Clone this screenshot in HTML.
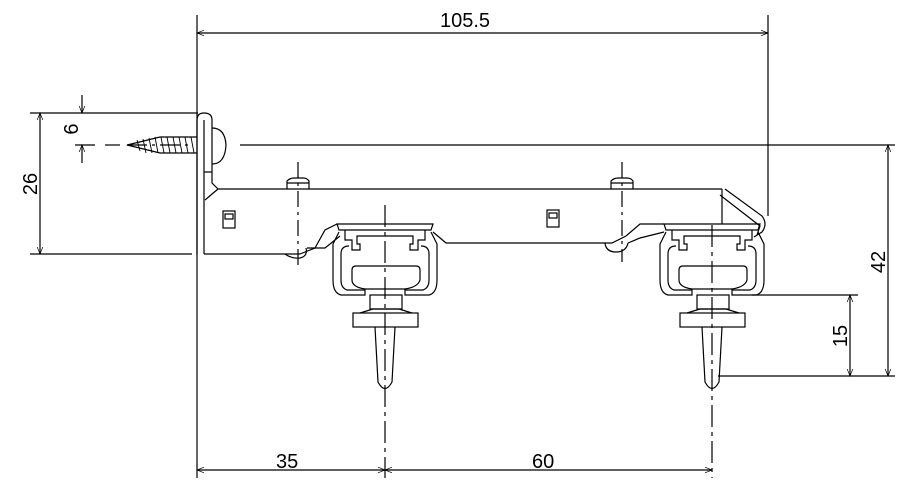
<!DOCTYPE html>
<html><head><style>
html,body{margin:0;padding:0;background:#fff;}
svg{display:block}
text{font-family:"Liberation Sans",sans-serif;font-size:20px;fill:#000}
</style></head><body>
<svg width="922" height="495" viewBox="0 0 922 495" xmlns="http://www.w3.org/2000/svg">
<defs>
<marker id="a" viewBox="0 0 10 10" refX="10" refY="5" markerWidth="10" markerHeight="7" orient="auto-start-reverse" markerUnits="userSpaceOnUse"><path d="M0,1 L10,5 L0,9" fill="none" stroke="#000" stroke-width="1"/></marker>
<g id="car" fill="none" stroke="#000" stroke-width="1.2">
<path d="M-48,224 L48,224 L46,230 L-46,230 Z"/>
<path d="M-40,230 L-40,240 L-33,240 L-33,250 L-25,250 L-25,244 L-28,244 L-28,236 L28,236 L28,244 L25,244 L25,250 L33,250 L33,240 L40,240 L40,230"/>
<path d="M-46,232 L-52,244 L-52,280 Q-52,293 -44,295 L-20,295 L-20,290 L-38,290 Q-44,288 -44,280 L-44,254 Q-44,246 -36,246"/>
<path d="M46,232 L52,244 L52,280 Q52,293 44,295 L20,295 L20,290 L38,290 Q44,288 44,280 L44,254 Q44,246 36,246"/>
<path d="M-33,270 Q-33,266 -29,266 L31,266 Q35,266 35,270 L35,280 Q33,287 20,289 L-20,289 Q-33,287 -33,280 Z"/>
<rect x="-15" y="295" width="32" height="14"/>
<path d="M-25,313 L-12,309 L14,309 L27,313"/>
<rect x="-32" y="313" width="65" height="14"/>
<path d="M-10,327 L-7,382 Q0,395 7,382 L10,327"/>
</g>
</defs>
<g fill="none" stroke="#000" stroke-width="1.2">
<!-- dimension / extension lines -->
<line x1="197" y1="15" x2="197" y2="478"/>
<line x1="768" y1="15" x2="768" y2="216"/>
<line x1="197" y1="33" x2="768" y2="33" marker-start="url(#a)" marker-end="url(#a)"/>
<line x1="30" y1="113" x2="198" y2="113"/>
<line x1="30" y1="254" x2="192" y2="254"/>
<line x1="40" y1="113" x2="40" y2="254" marker-start="url(#a)" marker-end="url(#a)"/>
<line x1="75" y1="145" x2="95" y2="145"/>
<line x1="82" y1="95" x2="82" y2="113" marker-end="url(#a)"/>
<line x1="82" y1="163" x2="82" y2="145" marker-end="url(#a)"/>
<line x1="105" y1="145" x2="120" y2="145"/>
<line x1="127" y1="145" x2="190" y2="145" stroke-dasharray="20,5,3,5"/>
<line x1="240" y1="145" x2="895" y2="145"/>
<line x1="888" y1="145" x2="888" y2="376" marker-start="url(#a)" marker-end="url(#a)"/>
<line x1="718" y1="376" x2="895" y2="376"/>
<line x1="752" y1="295" x2="858" y2="295"/>
<line x1="850" y1="295" x2="850" y2="376" marker-start="url(#a)" marker-end="url(#a)"/>
<line x1="385" y1="205" x2="385" y2="478" stroke-dasharray="22,5,4,5"/>
<line x1="712" y1="225" x2="712" y2="478" stroke-dasharray="22,5,4,5"/>
<line x1="298" y1="162" x2="298" y2="265" stroke-dasharray="16,5,3,5"/>
<line x1="622" y1="162" x2="622" y2="262" stroke-dasharray="16,5,3,5"/>
<line x1="197" y1="470" x2="385" y2="470" marker-start="url(#a)" marker-end="url(#a)"/>
<line x1="385" y1="470" x2="712" y2="470" marker-start="url(#a)" marker-end="url(#a)"/>
<!-- bracket plate -->
<path d="M197,254 L197,120 Q197,113 204,113 Q212,113 212,120 L212,183 L218,189"/>
<line x1="204" y1="120" x2="204" y2="254"/>
<line x1="204" y1="172" x2="212" y2="172"/>
<path d="M218,189 L205,200"/>
<path d="M212,128 Q225,128 226,145 Q225,164 212,164"/>
<!-- screw -->
<path d="M197,137 L160,137 L127,145 L160,153 L197,153"/>
<g stroke-width="0.9">
<line x1="137" y1="140" x2="140" y2="151"/><line x1="143" y1="139" x2="146" y2="153"/>
<line x1="149" y1="138" x2="152" y2="153"/><line x1="155" y1="137" x2="158" y2="153"/>
<line x1="161" y1="137" x2="164" y2="153"/><line x1="167" y1="137" x2="170" y2="153"/>
<line x1="173" y1="137" x2="176" y2="153"/><line x1="179" y1="137" x2="182" y2="153"/>
<line x1="185" y1="137" x2="188" y2="153"/><line x1="191" y1="137" x2="194" y2="153"/>
</g>
<!-- rail body -->
<line x1="218" y1="189" x2="722" y2="189"/>
<line x1="204" y1="254" x2="300" y2="254"/>
<path d="M300,254 L315,248 L325,230 L337,224"/>
<path d="M307,248 L325,248 L340,236"/>
<path d="M285,254 Q292,259 300,258 Q308,256 306,248"/>
<path d="M433,232 L446,243 L612,243 L626,236 L640,224 L664,224"/>
<path d="M628,243 L640,238 L664,232"/>
<path d="M605,243 Q606,252 616,252 Q626,252 628,243"/>
<path d="M722,189 L722,224"/>
<path d="M725,189 L762,216 Q768,224 762,232 L754,237"/>
<path d="M757,235 L760,226 L720,195"/>
<!-- nuts -->
<path d="M287,189 L287,181 Q290,178 294,178 L303,178 Q307,178 309,181 L309,189"/>
<line x1="287" y1="183" x2="309" y2="183"/>
<path d="M611,189 L611,181 Q614,178 618,178 L627,178 Q631,178 633,181 L633,189"/>
<line x1="611" y1="183" x2="633" y2="183"/>
<!-- small squares -->
<rect x="223" y="211" width="12" height="17"/><rect x="225" y="214" width="8" height="5"/>
<rect x="547" y="210" width="12" height="17"/><rect x="549" y="213" width="8" height="5"/>
</g>
<use href="#car" x="385" y="0"/>
<use href="#car" x="712" y="0"/>
<text x="440" y="27">105.5</text>
<text x="276" y="468">35</text>
<text x="532" y="468">60</text>
<text transform="translate(37,184) rotate(-90)" text-anchor="middle">26</text>
<text transform="translate(78,129) rotate(-90)" text-anchor="middle">6</text>
<text transform="translate(885,262) rotate(-90)" text-anchor="middle">42</text>
<text transform="translate(847,336) rotate(-90)" text-anchor="middle">15</text>
</svg>
</body></html>
